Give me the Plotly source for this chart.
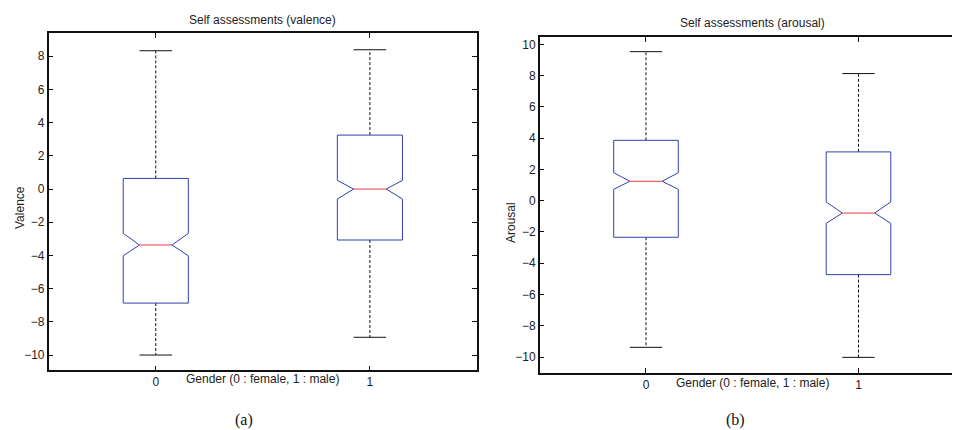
import plotly.graph_objects as go

# ---------------- data ----------------
categories = [0, 1]
tick_labels_x = ["0", "1"]

valence_whisker_hi = [8.33, 8.39]
valence_q3 = [0.64, 3.25]
valence_notch_hi = [-2.67, 0.52]
valence_median = [-3.37, 0.00]
valence_notch_lo = [-4.02, -0.60]
valence_q1 = [-6.87, -3.07]
valence_whisker_lo = [-10.00, -8.93]

arousal_whisker_hi = [9.53, 8.13]
arousal_q3 = [3.86, 3.12]
arousal_notch_hi = [1.79, -0.08]
arousal_median = [1.24, -0.79]
arousal_notch_lo = [0.73, -1.45]
arousal_q1 = [-2.34, -4.73]
arousal_whisker_lo = [-9.38, -10.02]

# ---------------- style ----------------
BOX_HALF = 0.152
NOTCH_HALF = 0.076
BLUE = "#3040b0"
RED = "#ee3b4a"
BLACK = "#111111"
FONT = "'Liberation Sans', Arial, Helvetica, sans-serif"


def box_traces(xa, ya, whi, q3, nhi, med, nlo, q1, wlo):
    bx, by, mx, my, wx, wy, cx, cy = [], [], [], [], [], [], [], []
    for i, c in enumerate(categories):
        l, r = c - BOX_HALF, c + BOX_HALF
        nl, nr = c - NOTCH_HALF, c + NOTCH_HALF
        bx += [l, l, nl, l, l, r, r, nr, r, r, l, None]
        by += [q1[i], nlo[i], med[i], nhi[i], q3[i], q3[i], nhi[i], med[i], nlo[i], q1[i], q1[i], None]
        mx += [nl, nr, None]
        my += [med[i], med[i], None]
        wx += [c, c, None, c, c, None]
        wy += [q3[i], whi[i], None, q1[i], wlo[i], None]
        cx += [nl, nr, None, nl, nr, None]
        cy += [whi[i], whi[i], None, wlo[i], wlo[i], None]
    common = dict(xaxis=xa, yaxis=ya, mode="lines", showlegend=False, hoverinfo="skip")
    return [
        go.Scatter(x=wx, y=wy, line=dict(color=BLACK, width=1, dash="3px,2px"), **common),
        go.Scatter(x=cx, y=cy, line=dict(color=BLACK, width=1), **common),
        go.Scatter(x=bx, y=by, line=dict(color=BLUE, width=1), **common),
        go.Scatter(x=mx, y=my, line=dict(color=RED, width=1), **common),
    ]


fig = go.Figure()
for t in box_traces("x", "y", valence_whisker_hi, valence_q3, valence_notch_hi, valence_median,
                    valence_notch_lo, valence_q1, valence_whisker_lo):
    fig.add_trace(t)
for t in box_traces("x2", "y2", arousal_whisker_hi, arousal_q3, arousal_notch_hi, arousal_median,
                    arousal_notch_lo, arousal_q1, arousal_whisker_lo):
    fig.add_trace(t)

axis_common = dict(
    showline=True, linecolor=BLACK, linewidth=1.5, mirror="ticks",
    ticks="inside", ticklen=5, tickcolor=BLACK, tickwidth=1,
    showgrid=False, zeroline=False,
    tickfont=dict(family=FONT, size=12, color="#222222"),
)

fig.update_layout(
    width=960, height=430,
    margin=dict(l=0, r=0, t=0, b=0),
    paper_bgcolor="white", plot_bgcolor="white",
    xaxis=dict(domain=[0.0424, 0.4885], range=[-0.5, 1.5], tickvals=categories,
               ticktext=tick_labels_x, anchor="y", **axis_common),
    yaxis=dict(domain=[0.1574, 0.9419], range=[-10.92, 9.4], dtick=2, tick0=0,
               anchor="x", **axis_common),
    xaxis2=dict(domain=[0.5539, 0.9966], range=[-0.5, 1.5], tickvals=categories,
                ticktext=tick_labels_x, anchor="y2", **axis_common),
    yaxis2=dict(domain=[0.1512, 0.9319], range=[-11.02, 10.45], dtick=2, tick0=0,
                anchor="x2", **axis_common),
)

txt = dict(family=FONT, size=12, color="#222222")
ann = [
    dict(text="Self assessments (valence)", x=254 / 960, y=1 - 12 / 430),
    dict(text="Self assessments (arousal)", x=744 / 960, y=1 - 15 / 430),
    dict(text="Gender (0 : female, 1 : male)", x=254 / 960, y=1 - 371 / 430),
    dict(text="Gender (0 : female, 1 : male)", x=744 / 960, y=1 - 375 / 430),
    dict(text="Valence", x=12 / 960, y=1 - 200 / 430, textangle=-90),
    dict(text="Arousal", x=503 / 960, y=1 - 215 / 430, textangle=-90),
]
for a in ann:
    fig.add_annotation(xref="paper", yref="paper", showarrow=False,
                       xanchor="center", yanchor="middle", font=txt, **a)

serif = dict(family="'Liberation Serif', 'DejaVu Serif', serif", size=16, color="#111111")
fig.add_annotation(text="(a)", x=236 / 960, y=1 - 412 / 430, xref="paper", yref="paper",
                   showarrow=False, xanchor="center", yanchor="middle", font=serif)
fig.add_annotation(text="(b)", x=727 / 960, y=1 - 412 / 430, xref="paper", yref="paper",
                   showarrow=False, xanchor="center", yanchor="middle", font=serif)

fig.write_html("out.html")
